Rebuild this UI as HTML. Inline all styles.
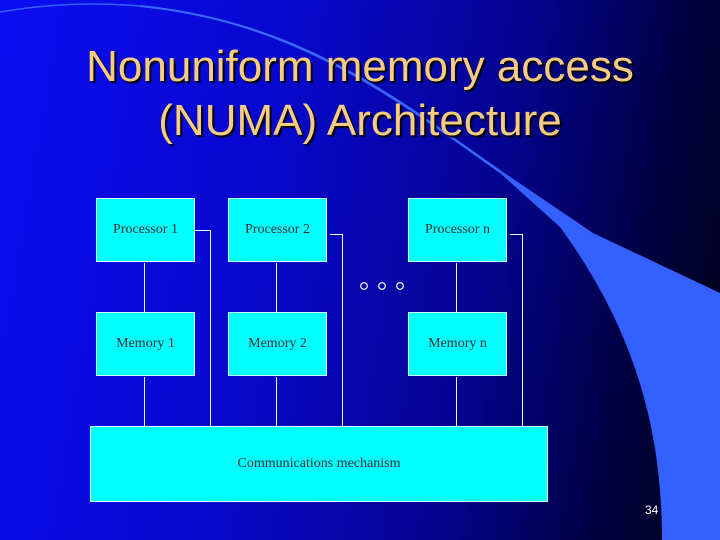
<!DOCTYPE html>
<html><head><style>
body{margin:0;width:720px;height:540px;overflow:hidden;position:relative;font-family:"Liberation Serif",serif;
background:linear-gradient(100deg,#0c0cf2 0%,#0808d0 35%,#040490 65%,#000040 85%,#000010 100%);}
.t{position:absolute;left:0;width:720px;text-align:center;font-family:"Liberation Sans",sans-serif;font-size:44px;color:#f8cc80;text-shadow:2px 2px 1px #000;}
.b{position:absolute;background:#00ffff;border:1px solid #c8ffff;box-sizing:border-box;font-size:14px;color:#333;display:flex;align-items:center;justify-content:center;}
.l{position:absolute;background:#e8ffff;}
</style></head><body>
<svg width="720" height="540" style="position:absolute;left:0;top:0">
<path d="M140,6 C300,22 400,100 500,170 L593,233 L720,293 L720,540 L662,540 C662,430 635,330 560,227 L500,173 C400,103 300,24 140,6 Z" fill="#3360ff"/>
<path d="M140,6 C300,22 400,100 500,172" stroke="#3a6aff" stroke-width="2" fill="none"/>
<path d="M0,12 Q70,0 140,6" stroke="#3060ff" stroke-width="1.5" fill="none"/>
</svg>
<div class="t" style="top:42px">Nonuniform memory access</div>
<div class="t" style="top:96px">(NUMA) Architecture</div>
<div class="b" style="left:96px;top:198px;width:99px;height:64px">Processor 1</div>
<div class="b" style="left:228px;top:198px;width:99px;height:64px">Processor 2</div>
<div class="b" style="left:408px;top:198px;width:99px;height:64px">Processor n</div>
<div class="b" style="left:96px;top:312px;width:99px;height:64px">Memory 1</div>
<div class="b" style="left:228px;top:312px;width:99px;height:64px">Memory 2</div>
<div class="b" style="left:408px;top:312px;width:99px;height:64px">Memory n</div>
<div class="l" style="left:144px;top:263px;width:1px;height:49px"></div>
<div class="l" style="left:276px;top:263px;width:1px;height:49px"></div>
<div class="l" style="left:456px;top:263px;width:1px;height:49px"></div>
<div class="l" style="left:144px;top:377px;width:1px;height:49px"></div>
<div class="l" style="left:276px;top:377px;width:1px;height:49px"></div>
<div class="l" style="left:456px;top:377px;width:1px;height:49px"></div>
<div class="l" style="left:195px;top:230px;width:16px;height:1px"></div>
<div class="l" style="left:210px;top:230px;width:1px;height:196px"></div>
<div class="l" style="left:330px;top:234px;width:13px;height:1px"></div>
<div class="l" style="left:342px;top:234px;width:1px;height:192px"></div>
<div class="l" style="left:510px;top:234px;width:13px;height:1px"></div>
<div class="l" style="left:522px;top:234px;width:1px;height:192px"></div>
<svg width="720" height="540" style="position:absolute;left:0;top:0">
<circle cx="364" cy="286" r="3.3" fill="none" stroke="#fff" stroke-width="1.2"/>
<circle cx="382" cy="286" r="3.3" fill="none" stroke="#fff" stroke-width="1.2"/>
<circle cx="400" cy="286" r="3.3" fill="none" stroke="#fff" stroke-width="1.2"/>
</svg>
<div class="b" style="left:90px;top:426px;width:458px;height:76px">Communications mechanism</div>
<div style="position:absolute;left:645px;top:503px;font-family:'Liberation Sans',sans-serif;font-size:12px;color:#fff">34</div>
</body></html>
